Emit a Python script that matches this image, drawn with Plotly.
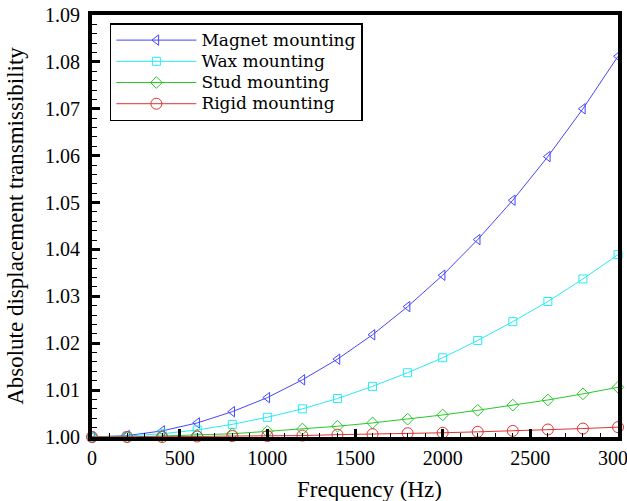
import plotly.graph_objects as go

freq = [0, 200, 400, 600, 800, 1000, 1200, 1400, 1600, 1800, 2000, 2200, 2400, 2600, 2800, 3000]
magnet = [1.0000, 1.0003, 1.0013, 1.0030, 1.0054, 1.0084, 1.0122, 1.0166, 1.0218, 1.0278,
          1.0345, 1.0421, 1.0505, 1.0598, 1.0700, 1.0812]
wax = [1.0000, 1.0002, 1.0007, 1.0015, 1.0027, 1.0042, 1.0060, 1.0082, 1.0108, 1.0137,
       1.0169, 1.0206, 1.0246, 1.0289, 1.0337, 1.0389]
stud = [1.0000, 1.0000, 1.0002, 1.0004, 1.0007, 1.0012, 1.0017, 1.0023, 1.0030, 1.0038,
        1.0047, 1.0057, 1.0068, 1.0079, 1.0092, 1.0106]
rigid = [1.0000, 1.0000, 1.0000, 1.0001, 1.0002, 1.0002, 1.0003, 1.0005, 1.0006, 1.0008,
         1.0009, 1.0011, 1.0013, 1.0016, 1.0018, 1.0021]

names = ["Magnet mounting", "Wax mounting", "Stud mounting", "Rigid mounting"]
series = [magnet, wax, stud, rigid]
colors = ["rgb(70,70,255)", "rgb(40,235,245)", "rgb(40,200,40)", "rgb(225,50,50)"]
symbols = ["triangle-left-open", "square-open", "diamond-open", "circle-open"]
sizes = [9, 8, 9, 11]

FONT = "Liberation Serif"
LEGEND_FONT = "DejaVu Serif"

fig = go.Figure()
for name, ys, c, s, sz in zip(names, series, colors, symbols, sizes):
    fig.add_trace(go.Scatter(
        x=freq, y=ys, mode="lines+markers",
        name='<span style="font-size:17px">' + name + '</span>',
        line=dict(color=c, width=1),
        marker=dict(symbol=s, size=sz, color=c, line=dict(color=c, width=1)),
        cliponaxis=False,
    ))

fig.update_layout(
    width=627, height=501,
    margin=dict(l=92, r=9, t=15, b=64),
    paper_bgcolor="white", plot_bgcolor="white",
    font=dict(family=FONT, size=20, color="black"),
    showlegend=True,
    legend=dict(
        x=0.034, y=0.981, xanchor="left", yanchor="top",
        bgcolor="white", bordercolor="black", borderwidth=1.5,
        font=dict(family=LEGEND_FONT, size=14, color="black"),
        itemwidth=80,
    ),
    xaxis=dict(
        range=[0, 3000], tickmode="linear", tick0=0, dtick=500, tickformat="d",
        ticks="inside", ticklen=8, tickwidth=3, tickcolor="black",
        minor=dict(ticks="inside", ticklen=4, tickwidth=1, tickcolor="black", dtick=100),
        showline=True, linewidth=4, linecolor="black", mirror=True,
        showgrid=False, zeroline=False, automargin=False,
        ticklabeloverflow="allow",
        tickfont=dict(family=FONT, size=20),
    ),
    yaxis=dict(
        range=[1.0, 1.09], tickmode="linear", tick0=1.0, dtick=0.01, tickformat=".2f",
        ticks="inside", ticklen=8, tickwidth=3, tickcolor="black",
        minor=dict(ticks="inside", ticklen=5, tickwidth=1, tickcolor="black", dtick=0.002),
        showline=True, linewidth=4, linecolor="black", mirror=True,
        showgrid=False, zeroline=False, automargin=False,
        tickfont=dict(family=FONT, size=20),
        ticklabelstandoff=4,
        title=dict(text="Absolute displacement transmissibility", font=dict(family=FONT, size=23), standoff=16),
    ),
    annotations=[dict(
        text="Frequency (Hz)", xref="paper", yref="paper", x=0.5285, y=-0.125,
        xanchor="center", yanchor="middle", showarrow=False,
        font=dict(family=FONT, size=23, color="black"),
    )],
)

fig.write_html("out.html")
